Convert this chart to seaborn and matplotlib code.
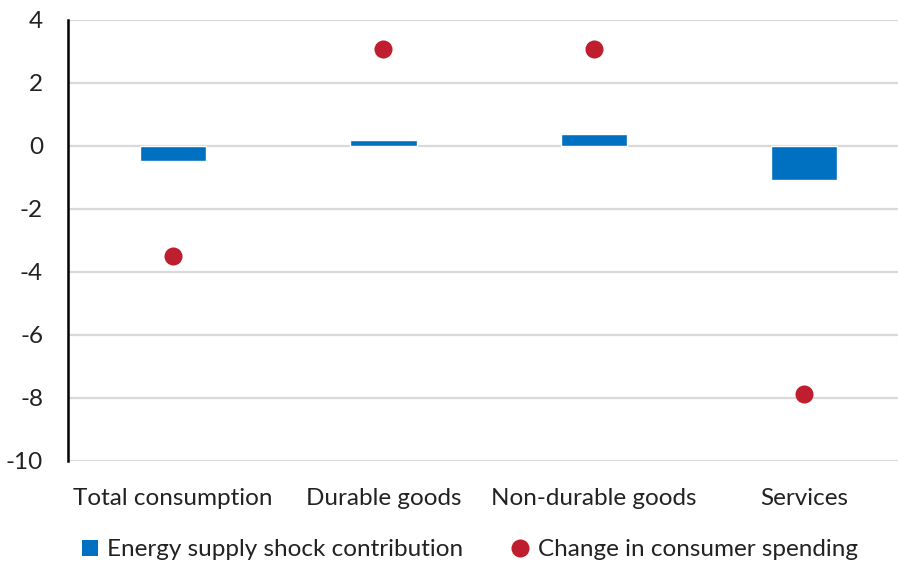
import matplotlib
matplotlib.use("Agg")
import matplotlib.pyplot as plt
from matplotlib.lines import Line2D
from matplotlib.patches import Patch
import pandas as pd
import seaborn as sns

categories = ["Total consumption", "Durable goods", "Non-durable goods", "Services"]
shock_contribution = [-0.5, 0.18, 0.38, -1.08]
spending_change = [-3.52, 3.06, 3.06, -7.88]
y_ticks = [4, 2, 0, -2, -4, -6, -8, -10]

BLUE = "#0070C0"
RED = "#BE1E2D"
FS = 17.5

sns.set_theme(style="white")
plt.rcParams["font.family"] = ["Lato", "DejaVu Sans"]

df = pd.DataFrame({"category": categories,
                   "shock": shock_contribution,
                   "spending": spending_change})

fig = plt.figure(figsize=(8.98, 5.66), dpi=100)
ax = fig.add_axes([68 / 898, 1 - 460.5 / 566, 1 - 68 / 898, 441 / 566])

ax.set_axisbelow(True)
for v in y_ticks:
    ax.axhline(v, color="#D9D9D9", lw=1.6, zorder=0)

sns.barplot(data=df, x="category", y="shock", color=BLUE, width=0.315,
            saturation=1, ax=ax, zorder=2)
sns.stripplot(data=df, x="category", y="spending", color=RED, size=13,
              jitter=False, linewidth=0, ax=ax, zorder=3)

ax.set_ylim(-10, 4)
ax.set_xlim(-0.5, 3.447)
ax.set_yticks(y_ticks)
ax.set_yticklabels([str(v) for v in y_ticks])
ax.set_xlabel("")
ax.set_ylabel("")

for side in ["top", "right", "bottom"]:
    ax.spines[side].set_visible(False)
ax.spines["left"].set_color("black")
ax.spines["left"].set_linewidth(1.8)

ax.tick_params(axis="y", direction="in", length=6, width=1.6, color="black",
               labelsize=FS, labelcolor="#222222", pad=18)
ax.tick_params(axis="x", length=0, labelsize=FS, labelcolor="#222222", pad=20)

handles = [Patch(facecolor=BLUE, edgecolor="none"),
           Line2D([], [], marker="o", linestyle="none", markersize=13,
                  markerfacecolor=RED, markeredgewidth=0)]
labels = ["Energy supply shock contribution", "Change in consumer spending"]
fig.legend(handles, labels, loc="center", bbox_to_anchor=(0.523, 1 - 550 / 566),
           ncol=2, frameon=False, fontsize=FS, columnspacing=2.0,
           handlelength=0.65, handleheight=0.65, handletextpad=0.4,
           labelcolor="#222222", borderpad=0)

fig.savefig("out.png", dpi=100)
